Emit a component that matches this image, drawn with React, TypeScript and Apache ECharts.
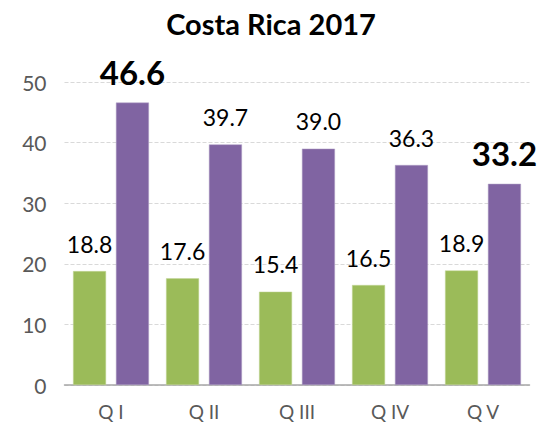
import React, { useEffect, useRef } from "react";
import * as echarts from "echarts";

const categories = ["Q I", "Q II", "Q III", "Q IV", "Q V"];
const greenValues = [18.8, 17.6, 15.4, 16.5, 18.9];
const purpleValues = [46.6, 39.7, 39.0, 36.3, 33.2];
const boldPurple = [true, false, false, false, true];
const yTicks = { min: 0, max: 50, interval: 10 };
const FONT = "Lato, 'Open Sans', sans-serif";

export default function App() {
  const ref = useRef<HTMLDivElement>(null);
  useEffect(() => {
    if (!ref.current) return;
    const chart = echarts.init(ref.current, null, { renderer: "svg" });
    const normalLabel = {
      show: true,
      position: "top",
      distance: 16,
      fontSize: 23,
      color: "#000",
      fontFamily: FONT,
      formatter: (p: any) => Number(p.value).toFixed(1),
    };
    chart.setOption({
      animation: false,
      title: {
        text: "Costa Rica 2017",
        left: "center",
        top: 4,
        itemGap: 0,
        textStyle: { fontSize: 29, fontWeight: "bold", color: "#000", fontFamily: FONT },
      },
      grid: { left: 64.5, right: 12.5, top: 82, bottom: 41, containLabel: false },
      xAxis: {
        type: "category",
        data: categories,
        axisLine: { lineStyle: { color: "#A6A6A6", width: 1.5 } },
        axisTick: { show: false },
        axisLabel: { fontSize: 19, color: "#595959", fontFamily: FONT, margin: 17 },
      },
      yAxis: {
        type: "value",
        min: yTicks.min,
        max: yTicks.max,
        interval: yTicks.interval,
        axisLine: { show: false },
        axisTick: { show: false },
        axisLabel: { fontSize: 21, color: "#595959", fontFamily: FONT, margin: 18 },
        splitLine: { lineStyle: { color: "#D9D9D9", type: "dashed", width: 1 } },
      },
      series: [
        {
          type: "bar",
          data: greenValues,
          barWidth: 33,
          barGap: "30%",
          itemStyle: { color: "#9BBB59", borderColor: "#C4D79B", borderWidth: 0.5 },
          label: normalLabel,
        },
        {
          type: "bar",
          data: purpleValues.map((v, i) =>
            boldPurple[i]
              ? { value: v, label: { fontSize: 33, fontWeight: "bold", distance: 14 } }
              : { value: v }
          ),
          barWidth: 33,
          barGap: "30%",
          itemStyle: { color: "#8064A2", borderColor: "#B1A0C7", borderWidth: 0.5 },
          label: normalLabel,
        },
      ],
    });
    return () => chart.dispose();
  }, []);
  return (
    <div
      ref={ref}
      style={{ position: "absolute", left: 0, top: 0, width: 542, height: 426, background: "#fff" }}
    />
  );
}
